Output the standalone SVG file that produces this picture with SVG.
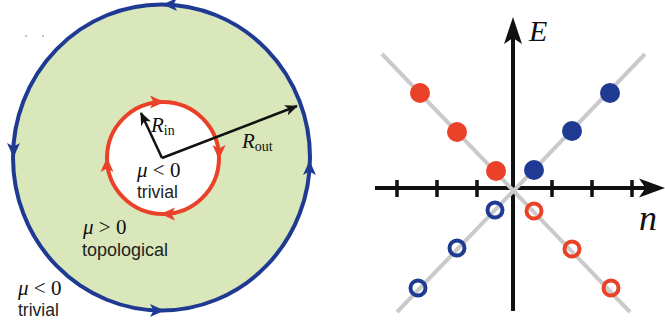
<svg xmlns="http://www.w3.org/2000/svg" width="665" height="323" viewBox="0 0 665 323">
<style>
.serif{font-family:"Liberation Serif","DejaVu Serif",serif;font-style:italic;fill:#111}
.sub{font-family:"Liberation Serif","DejaVu Serif",serif;font-style:normal;fill:#111}
.sans{font-family:"Liberation Sans","DejaVu Sans",sans-serif;fill:#222}
.blue{fill:#1f3a92}
.red{fill:#ea4229}
.grid{stroke:#cacaca;stroke-width:4;fill:none}
.axis{stroke:#111;stroke-width:4;fill:none}
.tick{stroke:#111;stroke-width:3.5}
.open{fill:none;stroke-width:4}
</style>
<defs>
<path id="ah" d="M7.5,0 L-7,-6.5 L-3.5,0 L-7,6.5 Z"/>
<marker id="blk" viewBox="0 0 13 11" refX="12" refY="5.5" markerWidth="13" markerHeight="11" markerUnits="userSpaceOnUse" orient="auto">
<path d="M13,5.5 L0,0 L3.5,5.5 L0,11 Z" fill="#111"/>
</marker>
</defs>
<g id="dots-tl" fill="#9aa">
<circle cx="26" cy="36" r="0.9"/>
<circle cx="43" cy="36" r="0.9"/>
</g>
<g id="outer-region">
<ellipse cx="161.5" cy="157.5" rx="148.5" ry="153" fill="#d9e7bb" stroke="#1f3a92" stroke-width="4"/>
<use href="#ah" class="blue" transform="translate(170,4.5) rotate(180)"/>
<use href="#ah" class="blue" transform="translate(13.5,150) rotate(90)"/>
<use href="#ah" class="blue" transform="translate(157,310.5)"/>
<use href="#ah" class="blue" transform="translate(309.5,168) rotate(-90)"/>
</g>
<g id="inner-region">
<circle cx="163" cy="158" r="56" fill="#ffffff" stroke="#ea4229" stroke-width="4"/>
<use href="#ah" class="red" transform="translate(157,102) rotate(0)"/>
<use href="#ah" class="red" transform="translate(219,152) rotate(90)"/>
<use href="#ah" class="red" transform="translate(168,214) rotate(180)"/>
<use href="#ah" class="red" transform="translate(107,165) rotate(-90)"/>
</g>
<g id="connectors">
<line x1="162" y1="158" x2="141" y2="113" stroke="#111" stroke-width="2.5" marker-end="url(#blk)"/>
<line x1="162" y1="158" x2="297" y2="106" stroke="#111" stroke-width="2.5" marker-end="url(#blk)"/>
</g>
<g id="labels-left">
<text class="serif" x="151" y="132" font-size="21">R<tspan class="sub" font-size="14" dy="3">in</tspan></text>
<text class="serif" x="242" y="148" font-size="21">R<tspan class="sub" font-size="14" dy="3">out</tspan></text>
<text class="serif" x="137" y="177" font-size="21">μ <tspan class="sub">&lt; 0</tspan></text>
<text class="sans" x="137" y="198" font-size="17.5">trivial</text>
<text class="serif" x="83" y="234" font-size="21">μ <tspan class="sub">&gt; 0</tspan></text>
<text class="sans" x="82" y="256" font-size="18">topological</text>
<text class="serif" x="18" y="295" font-size="21">μ <tspan class="sub">&lt; 0</tspan></text>
<text class="sans" x="18" y="316" font-size="17.5">trivial</text>
</g>
<g id="plot-axes">
<line class="axis" x1="375" y1="188" x2="650" y2="188"/>
<path d="M665,188 L639,178.5 L645.5,188 L639,197.5 Z" fill="#111"/>
<line class="axis" x1="513" y1="311" x2="513" y2="35"/>
<path d="M513,17 L522,44 L513,38 L504,44 Z" fill="#111"/>
<line class="tick" x1="397" y1="180" x2="397" y2="197"/>
<line class="tick" x1="437" y1="180" x2="437" y2="197"/>
<line class="tick" x1="477" y1="180" x2="477" y2="197"/>
<line class="tick" x1="552" y1="180" x2="552" y2="197"/>
<line class="tick" x1="592" y1="180" x2="592" y2="197"/>
<line class="tick" x1="632" y1="180" x2="632" y2="197"/>
</g>
<g id="plot-lines">
<line class="grid" x1="382" y1="54" x2="630" y2="312"/>
<line class="grid" x1="645" y1="54" x2="397" y2="312"/>
</g>
<g id="plot-points">
<circle class="red" cx="420" cy="93" r="10"/>
<circle class="red" cx="457" cy="132" r="10"/>
<circle class="red" cx="496" cy="171" r="10"/>
<circle class="blue" cx="534" cy="170" r="10"/>
<circle class="blue" cx="572" cy="131" r="10"/>
<circle class="blue" cx="610" cy="93" r="10"/>
<circle class="open" stroke="#1f3a92" cx="495" cy="210" r="7.5"/>
<circle class="open" stroke="#1f3a92" cx="457" cy="248" r="7.5"/>
<circle class="open" stroke="#1f3a92" cx="418" cy="288" r="7.5"/>
<circle class="open" stroke="#ea4229" cx="534" cy="211" r="7.5"/>
<circle class="open" stroke="#ea4229" cx="572" cy="249" r="7.5"/>
<circle class="open" stroke="#ea4229" cx="611" cy="288" r="7.5"/>
</g>
<g id="plot-labels">
<text class="serif" x="529" y="41" font-size="30">E</text>
<text class="serif" x="639" y="230" font-size="36">n</text>
</g>
</svg>
